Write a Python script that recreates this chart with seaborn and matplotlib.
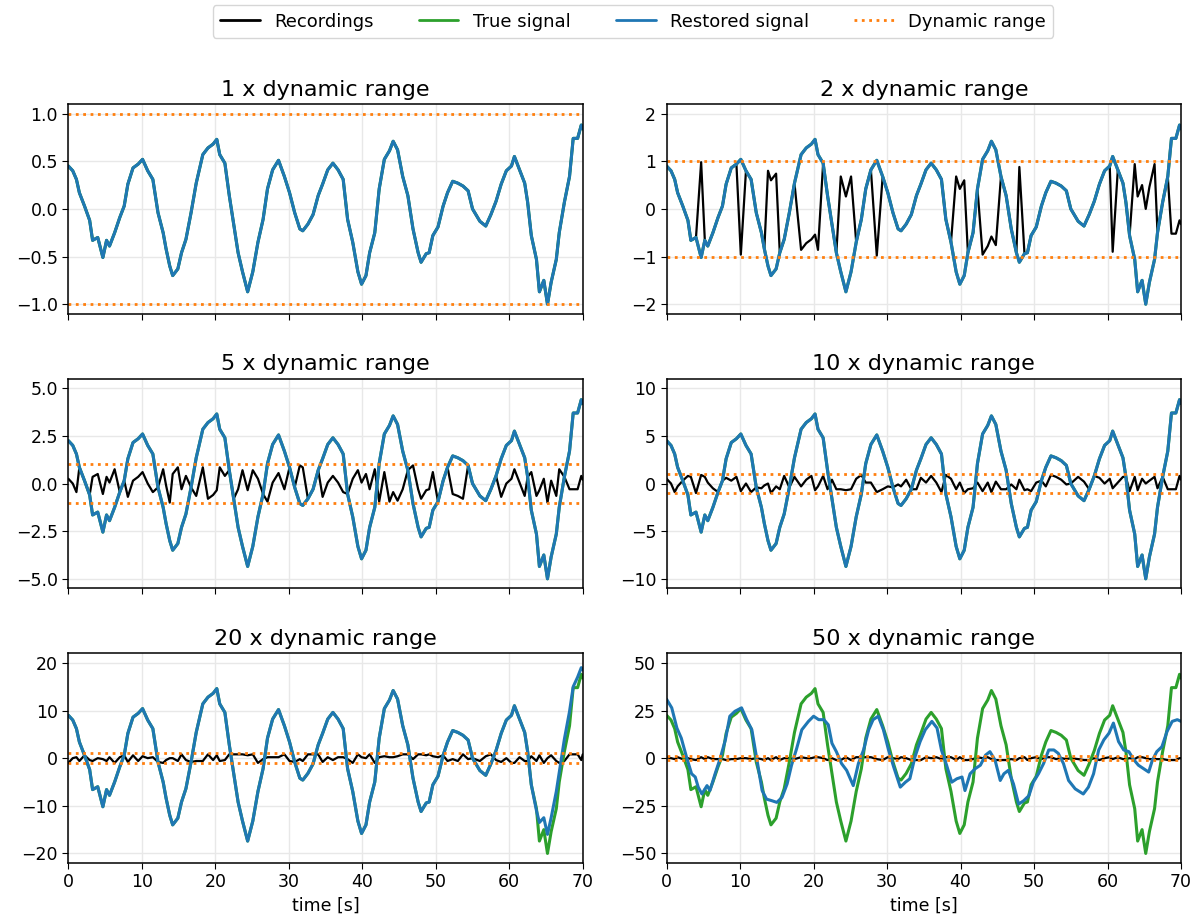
import numpy as np
import pandas as pd
import matplotlib
matplotlib.use("Agg")
import matplotlib.pyplot as plt
import seaborn as sns

# base signal, normalised units
t_sig = [0.0, 0.6, 1.1, 1.5, 2.2, 2.9, 3.3, 4.0, 4.7, 5.2, 5.6, 6.3, 7.0, 7.6, 8.1, 8.8, 9.5,
         10.1, 10.8, 11.5, 12.2, 12.9, 13.3, 13.8, 14.2, 14.9, 15.4, 16.0, 16.7, 17.4, 18.3,
         19.0, 19.7, 20.2, 20.6, 21.3, 21.9, 22.5, 23.1, 23.7, 24.4, 25.1, 25.8, 26.5, 27.1,
         27.8, 28.6, 29.4, 30.1, 30.8, 31.5, 31.9, 32.6, 33.3, 34.0, 34.6, 35.3, 36.0, 36.7,
         37.4, 38.0, 38.7, 39.4, 39.9, 40.5, 41.0, 41.7, 42.3, 43.0, 43.7, 44.2, 44.8, 45.5,
         46.2, 46.9, 47.6, 48.0, 48.7, 49.1, 49.6, 50.3, 51.0, 51.6, 52.3, 53.0, 53.7, 54.4,
         55.0, 56.0, 56.8, 57.5, 58.2, 58.9, 59.6, 60.3, 60.7, 61.4, 62.1, 62.5, 63.0, 63.7,
         64.1, 64.7, 65.2, 65.7, 66.4, 66.8, 67.5, 68.2, 68.7, 69.3, 69.8, 70.0]
signal = [0.45, 0.40, 0.31, 0.17, 0.03, -0.12, -0.33, -0.30, -0.51, -0.33, -0.39, -0.25, -0.09,
          0.03, 0.26, 0.43, 0.47, 0.52, 0.40, 0.31, -0.04, -0.25, -0.42, -0.60, -0.70, -0.63,
          -0.46, -0.32, -0.04, 0.27, 0.57, 0.64, 0.68, 0.73, 0.57, 0.48, 0.14, -0.16, -0.46,
          -0.66, -0.87, -0.66, -0.35, -0.11, 0.21, 0.41, 0.51, 0.34, 0.17, -0.04, -0.21, -0.23,
          -0.16, -0.06, 0.14, 0.26, 0.41, 0.48, 0.41, 0.31, -0.11, -0.35, -0.66, -0.79, -0.70,
          -0.46, -0.25, 0.21, 0.52, 0.61, 0.71, 0.62, 0.34, 0.14, -0.21, -0.46, -0.56, -0.47,
          -0.46, -0.28, -0.19, 0.03, 0.17, 0.29, 0.27, 0.24, 0.19, 0.00, -0.13, -0.18, -0.06,
          0.08, 0.26, 0.40, 0.45, 0.55, 0.41, 0.27, 0.07, -0.28, -0.53, -0.87, -0.75, -1.00,
          -0.77, -0.53, -0.25, 0.07, 0.34, 0.74, 0.74, 0.88, 0.84]

factors = [1, 2, 5, 10, 20, 50]

# restored signal where it departs from the true one
t_rest20_tail = [63.7, 64.1, 64.7, 65.2, 65.7, 66.4, 66.8, 67.5, 68.2, 68.7, 69.3, 69.8, 70.0]
rest20_tail = [-11, -13.5, -12.5, -16, -12.5, -7, -3, 4, 9.8, 15, 17, 19, 18.5]

t_rest50 = [0.0, 0.7, 1.4, 2.0, 2.7, 3.4, 3.9, 4.3, 4.8, 5.5, 5.9, 6.6, 7.3, 8.0, 8.6, 9.3,
            10.2, 10.9, 11.6, 12.3, 13.0, 13.6, 14.3, 15.0, 15.7, 16.4, 17.0, 17.7, 18.4, 19.3,
            20.0, 20.7, 21.4, 22.0, 22.5, 23.1, 23.8, 24.5, 25.4, 26.1, 26.8, 27.5, 28.1, 28.8,
            29.5, 30.2, 30.9, 31.8, 32.5, 33.1, 33.8, 34.5, 35.2, 36.1, 36.8, 37.4, 38.1, 38.8,
            39.5, 40.2, 40.6, 41.3, 42.0, 42.7, 43.4, 44.0, 44.7, 45.4, 45.9, 46.5, 47.2, 47.9,
            48.6, 49.3, 49.9, 50.6, 51.3, 52.0, 52.7, 53.3, 54.0, 54.7, 55.6, 56.7, 57.4, 58.1,
            58.8, 59.5, 60.2, 60.8, 61.5, 62.2, 62.9, 63.6, 64.2, 64.9, 65.6, 66.1, 66.7, 67.4,
            68.1, 68.8, 69.5, 70.0]
rest50 = [30.9, 26.4, 15.8, 10.5, 0.7, -8.2, -9.9, -15.2, -18.8, -14.4, -17, -8.2, 0, 9.6, 22,
          24.6, 26.4, 20.2, 14.9, -1, -17, -21.5, -22.3, -23.2, -20.6, -13.5, -3.7, 5.1, 14.9,
          19.3, 22, 20.2, 20.2, 17.5, 7.8, 3.4, -2.8, -6.4, -14.4, -2.8, 4.3, 14.9, 20.2, 22,
          14.9, 4.3, -4.6, -15.2, -12.6, -10.8, 0.7, 8.7, 14.9, 19.3, 15.8, 4.3, -3.7, -12.6,
          -10.8, -9.9, -17, -8.2, -5.5, -3.7, 1.6, 3.4, -1.1, -11.7, -8.2, -6.4, -13.5, -24.1,
          -22.3, -19.7, -12.6, -8.2, -2.8, 4.3, 4.3, 2.5, -2.8, -11.7, -16.1, -18.8, -15.2,
          -8.2, 4.3, 9.6, 13.1, 18.4, 8.7, 4.3, 3.4, -0.9, -3.7, -5.5, -7.3, -1.1, 3.4, 6, 14,
          19.3, 20.2, 19.3]

t_sig = np.array(t_sig)
signal = np.array(signal)

sns.set_style("ticks")
plt.rcParams["font.family"] = ["DejaVu Sans"]
plt.rcParams["text.color"] = "black"
plt.rcParams["axes.labelcolor"] = "black"
plt.rcParams["axes.titlecolor"] = "black"
plt.rcParams["xtick.labelsize"] = 12.5
plt.rcParams["ytick.labelsize"] = 12.5
plt.rcParams["xtick.major.size"] = 4
plt.rcParams["ytick.major.size"] = 4
plt.rcParams["axes.edgecolor"] = "black"
plt.rcParams["xtick.color"] = "black"
plt.rcParams["ytick.color"] = "black"

fig, axes = plt.subplots(3, 2, figsize=(11.99, 9.21), dpi=100, sharex=True)

for ax, k in zip(axes.flat, factors):
    true = k * signal
    rec = np.mod(true + 1, 2) - 1
    if k == 50:
        t_r, restored = np.array(t_rest50), np.array(rest50)
    elif k == 20:
        keep = t_sig < 63.5
        t_r = np.concatenate([t_sig[keep], t_rest20_tail])
        restored = np.concatenate([true[keep], rest20_tail])
    else:
        t_r, restored = t_sig, true

    sns.lineplot(x=t_sig, y=rec, ax=ax, color="black", lw=1.6, sort=False,
                 estimator=None, label="Recordings")
    sns.lineplot(x=t_sig, y=true, ax=ax, color="#2ca02c", lw=2.2, sort=False,
                 estimator=None, label="True signal")
    sns.lineplot(x=t_r, y=restored, ax=ax, color="#1f77b4", lw=2.2, sort=False,
                 estimator=None, label="Restored signal")
    ax.axhline(1, color="#ff7f0e", ls=":", lw=2, label="Dynamic range")
    ax.axhline(-1, color="#ff7f0e", ls=":", lw=2)

    if ax.get_legend() is not None:
        ax.get_legend().remove()
    ax.set_title(f"{k} x dynamic range", fontsize=16)
    ax.set_xlim(0, 70)
    ax.set_xticks(range(0, 71, 10))
    ax.set_ylim(-1.1 * k, 1.1 * k)
    ax.set_yticks(np.linspace(-k, k, 5))
    ax.grid(True, color="#e8e8e8", lw=1)
    ax.set_axisbelow(True)
    ax.set_ylabel("")
    for s in ax.spines.values():
        s.set_visible(True)
        s.set_linewidth(1.1)

for ax in axes[-1]:
    ax.set_xlabel("time [s]", fontsize=12.5)

handles, labels = axes[0, 0].get_legend_handles_labels()
leg = fig.legend(handles, labels, loc="upper center", ncol=4, fontsize=13,
                 bbox_to_anchor=(0.528, 1.004), columnspacing=2.5, handlelength=2.2)
for h in leg.legend_handles:
    h.set_linewidth(2)

fig.subplots_adjust(left=0.057, right=0.985, top=0.887, bottom=0.063,
                    wspace=0.163, hspace=0.31)
fig.savefig("out.png", dpi=100)
